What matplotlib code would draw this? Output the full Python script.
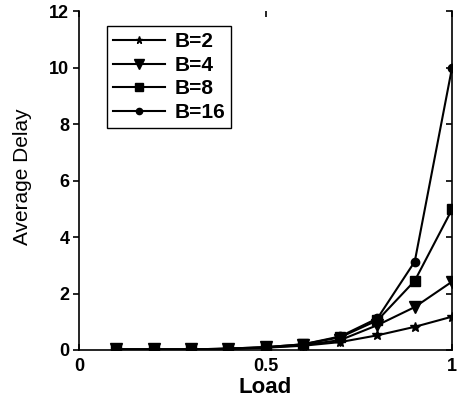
import numpy as np
import matplotlib
matplotlib.use("Agg")
import matplotlib.pyplot as plt

load = [0.1, 0.2, 0.3, 0.4, 0.5, 0.6, 0.7, 0.8, 0.9, 1.0]
delay_b2 = [0.02, 0.02, 0.02, 0.04, 0.08, 0.15, 0.28, 0.52, 0.82, 1.18]
delay_b4 = [0.02, 0.02, 0.02, 0.04, 0.09, 0.17, 0.35, 0.88, 1.52, 2.42]
delay_b8 = [0.02, 0.02, 0.02, 0.05, 0.1, 0.2, 0.45, 1.05, 2.45, 4.98]
delay_b16 = [0.02, 0.02, 0.02, 0.05, 0.1, 0.2, 0.48, 1.12, 3.13, 10.0]
labels = ["B=2", "B=4", "B=8", "B=16"]
xticks = [0, 0.5, 1]
yticks = [0, 2, 4, 6, 8, 10, 12]

plt.rcParams['font.family'] = ['Liberation Sans', 'DejaVu Sans']

fig = plt.figure(figsize=(4.58, 3.97), dpi=100)
ax = fig.add_axes([0.1725, 0.1184, 0.8145, 0.8536])

series = [delay_b2, delay_b4, delay_b8, delay_b16]
markers = ['*', 'v', 's', 'o']
sizes = [7, 9, 7, 6]
for ys, m, s, lab in zip(series, markers, sizes, labels):
    ax.plot(load, ys, color='black', lw=1.5, marker=m, ms=s, label=lab)

ax.set_xlim(0, 1)
ax.set_ylim(0, 12)
ax.set_xticks(xticks)
ax.set_xticklabels(["0", "0.5", "1"])
ax.set_yticks(yticks)
ax.spines['top'].set_visible(False)
for sp in ['left', 'bottom', 'right']:
    ax.spines[sp].set_linewidth(1.2)

ax.tick_params(axis='y', direction='out', length=4, width=1.2, labelsize=13, pad=3)
ax.tick_params(axis='x', direction='in', length=4, width=1.2, labelsize=13, top=True, pad=6)
for t in ax.get_xticklabels() + ax.get_yticklabels():
    t.set_fontweight('bold')

ax2 = ax.twinx()
ax2.set_ylim(0, 12)
ax2.set_yticks(yticks)
ax2.tick_params(axis='y', direction='in', length=4, width=1.2, labelright=False)
for sp in ax2.spines.values():
    sp.set_visible(False)

ax.set_xlabel("Load", fontsize=16, fontweight='bold')
ax.xaxis.set_label_coords(0.5, -0.08)
ax.set_ylabel("Average Delay", fontsize=15)
ax.yaxis.set_label_coords(-0.125, 0.51)

leg = ax.legend(loc='upper left', bbox_to_anchor=(0.075, 0.956), fancybox=False,
                framealpha=1, edgecolor='black', handlelength=2.5, borderpad=0.3,
                labelspacing=0.22, handletextpad=0.43, markerscale=0.75,
                borderaxespad=0, prop={'weight': 'bold', 'size': 15})
leg.get_frame().set_linewidth(1.0)

fig.savefig("out.png", dpi=100)
